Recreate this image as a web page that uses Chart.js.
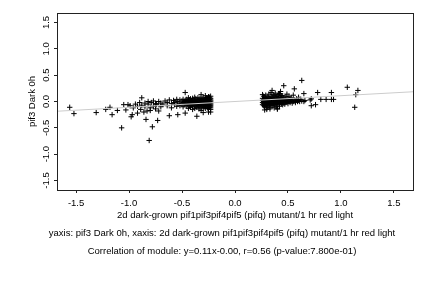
<!DOCTYPE html>
<html>
<head>
<meta charset="utf-8">
<script src="https://cdn.jsdelivr.net/npm/chart.js@4"></script>
<style>
    html, body { margin: 0; padding: 0; background: #fff; }
</style>
</head>
<body>
<canvas id="moduleChart" width="432" height="288"></canvas>
<script>
// axis labels and captions
const xTitle = "2d dark-grown pif1pif3pif4pif5 (pifq) mutant/1 hr red light";
const yTitle = "pif3 Dark 0h";
const captionLines = [
    "yaxis: pif3 Dark 0h, xaxis: 2d dark-grown pif1pif3pif4pif5 (pifq) mutant/1 hr red light",
    "Correlation of module: y=0.11x-0.00, r=0.56 (p-value:7.800e-01)",
];
const axisMin = -1.68;
const axisMax = 1.68;
const tickStep = 0.5;

// fitted line end points (y = 0.11x - 0.00)
const fitX = [-1.68, 1.68];
const fitY = [-0.185, 0.185];

// genes with x < 0, dense part
const leftDense = [
    [-0.23, 0.10], [-0.23, 0.06], [-0.23, 0.03], [-0.23, 0.01], [-0.23, -0.01], [-0.23, -0.03],
    [-0.23, -0.05], [-0.23, -0.07], [-0.23, -0.09], [-0.23, -0.12], [-0.23, -0.15], [-0.23, -0.20],
    [-0.24, 0.08], [-0.24, 0.04], [-0.24, 0.00], [-0.24, -0.04], [-0.24, -0.08], [-0.24, -0.11],
    [-0.25, 0.09], [-0.25, 0.05], [-0.25, 0.02], [-0.25, -0.02], [-0.25, -0.06], [-0.25, -0.10],
    [-0.25, -0.14], [-0.25, -0.20],
    [-0.26, 0.06], [-0.26, 0.01], [-0.26, -0.03], [-0.26, -0.07], [-0.26, -0.12],
    [-0.27, 0.07], [-0.27, 0.03], [-0.27, -0.01], [-0.27, -0.05], [-0.27, -0.09],
    [-0.28, 0.11], [-0.28, 0.05], [-0.28, 0.00], [-0.28, -0.04], [-0.28, -0.08], [-0.28, -0.13],
    [-0.29, 0.04], [-0.29, -0.02], [-0.29, -0.06], [-0.29, -0.10],
    [-0.30, 0.07], [-0.30, 0.02], [-0.30, -0.03], [-0.30, -0.07], [-0.30, -0.11], [-0.30, -0.21],
    [-0.31, 0.05], [-0.31, 0.00], [-0.31, -0.05], [-0.31, -0.09],
    [-0.32, 0.13], [-0.32, 0.03], [-0.32, -0.02], [-0.32, -0.06], [-0.32, -0.12], [-0.32, -0.17],
    [-0.33, 0.06], [-0.33, 0.01], [-0.33, -0.04], [-0.33, -0.08],
    [-0.34, 0.04], [-0.34, -0.01], [-0.34, -0.05], [-0.34, -0.10], [-0.34, -0.14],
    [-0.35, 0.07], [-0.35, 0.02], [-0.35, -0.03], [-0.35, -0.07],
    [-0.36, 0.03], [-0.36, -0.02], [-0.36, -0.06], [-0.36, -0.11], [-0.36, -0.28],
    [-0.37, 0.05], [-0.37, 0.00], [-0.37, -0.04], [-0.37, -0.09],
    [-0.38, 0.08], [-0.38, 0.02], [-0.38, -0.03], [-0.38, -0.07], [-0.38, -0.13],
    [-0.39, 0.03], [-0.39, -0.01], [-0.39, -0.06],
    [-0.40, 0.06], [-0.40, 0.01], [-0.40, -0.04], [-0.40, -0.09], [-0.40, -0.15],
    [-0.41, 0.02], [-0.41, -0.03], [-0.41, -0.07],
    [-0.42, 0.05], [-0.42, 0.00], [-0.42, -0.05], [-0.42, -0.11],
    [-0.43, 0.03], [-0.43, -0.02], [-0.43, -0.08],
    [-0.44, 0.07], [-0.44, 0.01], [-0.44, -0.04], [-0.44, -0.13],
    [-0.45, 0.02], [-0.45, -0.03], [-0.45, -0.06],
    [-0.46, 0.04], [-0.46, -0.01], [-0.46, -0.08],
    [-0.47, 0.17], [-0.47, 0.02], [-0.47, -0.04], [-0.47, -0.22],
    [-0.48, 0.00], [-0.48, -0.06],
    [-0.49, 0.04], [-0.49, -0.02], [-0.49, -0.10],
    [-0.50, 0.01], [-0.50, -0.05],
    [-0.52, 0.03], [-0.52, -0.03], [-0.52, -0.08],
    [-0.54, 0.00], [-0.54, -0.05], [-0.54, -0.25],
    [-0.55, 0.04], [-0.55, -0.09],
    [-0.57, -0.02], [-0.57, -0.06], [-0.58, 0.02],
    [-0.60, -0.04], [-0.60, -0.12], [-0.62, 0.03], [-0.62, -0.27],
    [-0.64, -0.02], [-0.64, -0.08], [-0.66, 0.01], [-0.68, -0.05],
];

// genes with x < 0, sparse part
const leftSparse = [
    [-0.70, -0.03], [-0.70, -0.10], [-0.72, 0.00], [-0.72, -0.18], [-0.74, -0.06],
    [-0.75, -0.04], [-0.75, -0.14], [-0.77, 0.01], [-0.77, -0.09], [-0.79, -0.02],
    [-0.80, -0.12], [-0.80, -0.17], [-0.82, -0.05], [-0.82, 0.00], [-0.83, -0.18],
    [-0.85, -0.03], [-0.85, -0.10], [-0.86, -0.20], [-0.88, 0.07], [-0.88, -0.07],
    [-0.89, -0.15], [-0.90, -0.02], [-0.92, -0.09], [-0.92, -0.22], [-0.94, -0.05],
    [-0.96, -0.12], [-0.97, -0.25], [-0.98, -0.29], [-0.99, -0.08], [-1.01, -0.06],
    [-1.03, -0.16], [-1.05, -0.06], [-1.07, -0.50], [-1.11, -0.17], [-1.16, -0.25],
    [-1.18, -0.11], [-1.22, -0.15], [-1.31, -0.21], [-1.52, -0.23], [-1.56, -0.11],
    [-0.84, -0.34], [-0.81, -0.74], [-0.78, -0.48], [-0.73, -0.36],
];

// genes with x > 0, dense part
const rightDense = [
    [0.26, 0.06], [0.26, 0.02], [0.26, -0.02], [0.26, -0.06], [0.26, 0.13],
    [0.27, 0.10], [0.27, 0.04], [0.27, 0.00], [0.27, -0.04], [0.27, -0.08],
    [0.28, 0.08], [0.28, 0.03], [0.28, -0.01], [0.28, -0.05], [0.28, -0.10],
    [0.29, 0.12], [0.29, 0.05], [0.29, 0.01], [0.29, -0.03], [0.29, -0.07],
    [0.30, 0.06], [0.30, 0.02], [0.30, -0.02], [0.30, -0.06], [0.30, -0.12],
    [0.31, 0.09], [0.31, 0.04], [0.31, 0.00], [0.31, -0.04], [0.31, -0.09],
    [0.32, 0.14], [0.32, 0.07], [0.32, 0.01], [0.32, -0.03], [0.32, -0.07],
    [0.33, 0.05], [0.33, 0.02], [0.33, -0.02], [0.33, -0.06], [0.33, -0.11],
    [0.34, 0.10], [0.34, 0.03], [0.34, -0.01], [0.34, -0.05], [0.34, 0.17],
    [0.35, 0.21], [0.35, 0.08], [0.35, 0.04], [0.35, 0.00], [0.35, -0.04], [0.35, -0.08],
    [0.36, 0.06], [0.36, 0.01], [0.36, -0.03], [0.36, -0.07], [0.36, 0.13],
    [0.37, 0.11], [0.37, 0.04], [0.37, 0.00], [0.37, -0.05], [0.37, -0.12],
    [0.38, 0.16], [0.38, 0.07], [0.38, 0.02], [0.38, -0.02], [0.38, -0.06],
    [0.39, 0.05], [0.39, 0.01], [0.39, -0.04], [0.39, -0.10], [0.39, 0.10],
    [0.40, 0.09], [0.40, 0.03], [0.40, -0.01], [0.40, -0.05], [0.40, -0.14],
    [0.41, 0.13], [0.41, 0.06], [0.41, 0.02], [0.41, -0.03],
    [0.42, 0.04], [0.42, 0.00], [0.42, -0.04], [0.42, -0.09], [0.42, 0.15],
    [0.43, 0.19], [0.43, 0.08], [0.43, 0.03], [0.43, -0.02],
    [0.44, 0.05], [0.44, 0.01], [0.44, -0.04], [0.44, 0.11],
    [0.45, 0.11], [0.45, 0.03], [0.45, -0.01], [0.45, -0.06],
    [0.46, 0.30], [0.46, 0.07], [0.46, 0.02], [0.46, -0.03],
    [0.47, 0.04], [0.47, 0.00], [0.47, -0.05],
    [0.48, 0.09], [0.48, 0.02], [0.48, -0.02],
    [0.49, 0.14], [0.49, 0.03], [0.49, -0.01],
    [0.50, 0.06], [0.50, 0.01], [0.50, -0.04],
    [0.51, 0.10], [0.51, 0.00], [0.52, 0.04], [0.52, -0.02],
    [0.53, 0.07], [0.53, 0.01], [0.54, 0.02], [0.54, -0.03],
    [0.55, 0.12], [0.55, 0.00], [0.56, 0.24], [0.56, 0.03],
    [0.57, 0.01], [0.57, -0.02], [0.58, 0.05], [0.59, 0.00],
    [0.60, 0.08], [0.60, 0.02], [0.61, 0.00], [0.62, 0.04],
];

// genes with x > 0, sparse part
const rightSparse = [
    [0.63, 0.40], [0.63, 0.01], [0.65, 0.15], [0.65, 0.00], [0.66, 0.02],
    [0.71, 0.03], [0.72, 0.05], [0.72, -0.08], [0.76, -0.06], [0.78, 0.17],
    [0.81, 0.04], [0.86, 0.04], [0.91, 0.17], [0.91, 0.04], [0.93, 0.04],
    [1.06, 0.27], [1.13, -0.11], [1.14, 0.13], [1.16, 0.21],
    [0.30, -0.15], [0.40, -0.14], [0.28, -0.16], [0.33, -0.14],
];

const ink = "#000000";
const fontFamily = "'Liberation Sans', Arial, Helvetica, sans-serif";
const fontSize = 9.5;

/**
 *
 */
function _toPoints(pairs) {
    return pairs.map((p) => ({ x: p[0], y: p[1] }));
}

/**
 *
 */
const framePlugin = {
    id: "framePlugin",
    afterDraw(chart) {
        const ctx = chart.ctx;
        const area = chart.chartArea;
        const yScale = chart.scales.y;

        ctx.save();
        ctx.strokeStyle = "#222";
        ctx.lineWidth = 1;
        ctx.strokeRect(
            Math.round(area.left) + 0.5,
            Math.round(area.top) + 0.5,
            Math.round(area.right - area.left),
            Math.round(area.bottom - area.top)
        );

        // rotated y tick labels, R style
        ctx.fillStyle = ink;
        ctx.font = fontSize + "px " + fontFamily;
        ctx.textAlign = "center";
        ctx.textBaseline = "middle";
        for (let tick of yScale.ticks) {
            const py = yScale.getPixelForValue(tick.value);
            ctx.save();
            ctx.translate(46.5, py);
            ctx.rotate(-Math.PI / 2);
            ctx.fillText(tick.value.toFixed(1), 0, 0);
            ctx.restore();
        }

        // captions under the chart
        ctx.fillText(captionLines[0], 222, 233);
        ctx.fillText(captionLines[1], 222, 251);
        ctx.restore();
    },
};

const data = {
    datasets: [
        {
            type: "line",
            data: fitX.map((x, i) => ({ x: x, y: fitY[i] })),
            borderColor: "#cccccc",
            borderWidth: 1,
            pointRadius: 0,
            fill: false,
            order: 0,
        },
        {
            type: "scatter",
            data: _toPoints(leftDense.concat(leftSparse, rightDense, rightSparse)),
            pointStyle: "cross",
            pointRadius: 2.7,
            borderColor: ink,
            backgroundColor: ink,
            borderWidth: 1,
            order: 1,
        },
    ],
};

const config = {
    type: "scatter",
    data: data,
    options: {
        responsive: false,
        animation: false,
        devicePixelRatio: 1,
        layout: {
            padding: { left: 0, top: 13, right: 19, bottom: 67 },
        },
        plugins: {
            legend: { display: false },
            tooltip: { enabled: false },
        },
        scales: {
            x: {
                type: "linear",
                min: axisMin,
                max: axisMax,
                afterFit: (scale) => {
                    scale.height = 31;
                },
                border: { display: false },
                grid: {
                    drawOnChartArea: false,
                    drawTicks: true,
                    tickLength: 3,
                    color: "#222",
                },
                ticks: {
                    stepSize: tickStep,
                    includeBounds: false,
                    autoSkip: false,
                    maxRotation: 0,
                    padding: 5,
                    color: ink,
                    font: { family: fontFamily, size: fontSize },
                    callback: (v) => v.toFixed(1),
                },
                title: {
                    display: true,
                    text: xTitle,
                    color: ink,
                    font: { family: fontFamily, size: fontSize },
                    padding: { top: 0, bottom: 0 },
                },
            },
            y: {
                type: "linear",
                min: axisMin,
                max: axisMax,
                afterFit: (scale) => {
                    scale.width = 57;
                },
                border: { display: false },
                grid: {
                    drawOnChartArea: false,
                    drawTicks: true,
                    tickLength: 3,
                    color: "#222",
                },
                ticks: {
                    stepSize: tickStep,
                    includeBounds: false,
                    color: "rgba(0,0,0,0)",
                    font: { family: fontFamily, size: fontSize },
                },
                title: {
                    display: true,
                    text: yTitle,
                    color: ink,
                    font: { family: fontFamily, size: fontSize },
                    padding: { top: 27, bottom: 0 },
                },
            },
        },
    },
    plugins: [framePlugin],
};

new Chart(document.getElementById("moduleChart"), config);
</script>
</body>
</html>
